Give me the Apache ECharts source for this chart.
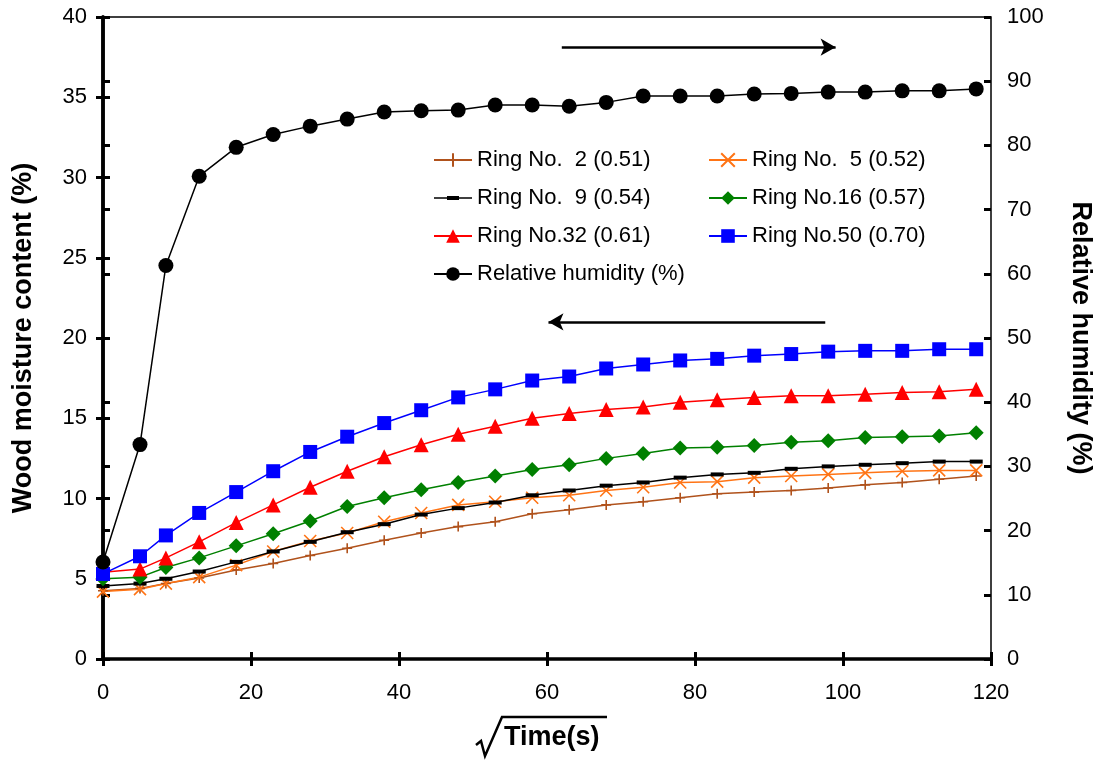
<!DOCTYPE html>
<html>
<head>
<meta charset="utf-8">
<script src="https://cdn.jsdelivr.net/npm/echarts@6/dist/echarts.min.js"></script>
<style>
  html, body { margin: 0; padding: 0; background: #fff; }
  #chart { width: 1102px; height: 761px; }
</style>
</head>
<body>
<div id="chart"></div>
<script>
// sqrt(time) positions of the readings
const xs = [0, 5, 8.5, 13, 18, 23, 28, 33, 38, 43, 48, 53, 58, 63, 68, 73, 78, 83, 88, 93, 98, 103, 108, 113, 118]

const ring2 = [4.25, 4.4, 4.7, 5.05, 5.55, 5.95, 6.45, 6.9, 7.4, 7.85, 8.25, 8.55, 9.05, 9.3, 9.6, 9.8, 10.05, 10.3, 10.4, 10.5, 10.65, 10.85, 11.0, 11.2, 11.4]
const ring5 = [4.2, 4.35, 4.7, 5.1, 5.85, 6.7, 7.35, 7.85, 8.55, 9.1, 9.6, 9.8, 10.05, 10.2, 10.5, 10.7, 11.0, 11.05, 11.3, 11.4, 11.5, 11.6, 11.7, 11.75, 11.75]
const ring9 = [4.55, 4.7, 5.0, 5.45, 6.05, 6.7, 7.3, 7.9, 8.4, 9.0, 9.4, 9.75, 10.2, 10.5, 10.8, 11.0, 11.3, 11.5, 11.6, 11.85, 12.0, 12.1, 12.2, 12.3, 12.3]
const ring16 = [5.0, 5.1, 5.7, 6.3, 7.05, 7.8, 8.6, 9.5, 10.05, 10.55, 11.0, 11.4, 11.8, 12.1, 12.5, 12.8, 13.15, 13.2, 13.3, 13.5, 13.6, 13.8, 13.85, 13.9, 14.1]
const ring32 = [5.4, 5.6, 6.3, 7.3, 8.5, 9.6, 10.7, 11.7, 12.6, 13.35, 14.0, 14.5, 15.0, 15.3, 15.55, 15.7, 16.0, 16.15, 16.3, 16.4, 16.4, 16.5, 16.6, 16.65, 16.8]
const ring50 = [5.3, 6.4, 7.7, 9.1, 10.4, 11.7, 12.9, 13.85, 14.7, 15.5, 16.3, 16.8, 17.35, 17.6, 18.1, 18.35, 18.6, 18.7, 18.9, 19.0, 19.15, 19.2, 19.2, 19.3, 19.3]
const humidity = [15.1, 33.4, 61.3, 75.2, 79.7, 81.7, 83.0, 84.1, 85.2, 85.4, 85.5, 86.3, 86.3, 86.1, 86.7, 87.7, 87.7, 87.7, 88.0, 88.1, 88.3, 88.3, 88.5, 88.5, 88.8]

// arrows pointing to the axis each group belongs to
const leftArrow = [[97.6, 21.0], [60.2, 21.0]]
const rightArrow = [[62, 95.3], [99, 95.3]]

const FONT = '"Liberation Sans", Arial, sans-serif'
const pairs = (arr) => xs.map((x, i) => [x, arr[i]])

const plusPath = 'path://M0,5L10,5M5,0L5,10'
const crossPath = 'path://M0,0L10,10M0,10L10,0'
// legend icon for ring 9: thin line with a thick dash, in a 38x17 box
const dashLegendIcon = 'path://M0,0L0.05,0L0,0.05Z M0,7.75L38,7.75L38,9.25L0,9.25Z M13,6.5L25,6.5L25,10.5L13,10.5Z M37.95,17L38,17L38,16.95Z'

function ringSeries(name, data, color, symbol, size, stroke) {
  return {
    name,
    type: 'line',
    data: pairs(data),
    symbol,
    symbolSize: size,
    lineStyle: { color, width: 1.5 },
    itemStyle: stroke
      ? { color: 'rgba(0,0,0,0)', borderColor: color, borderWidth: 1.6 }
      : { color, borderWidth: 0 },
  }
}

const chart = echarts.init(document.getElementById('chart'))

const tickOut = { show: true, length: 7, lineStyle: { color: '#000', width: 3 } }
const tickIn = { show: true, inside: true, length: 7, lineStyle: { color: '#000', width: 3 } }
const axisLabel = { color: '#000', fontSize: 22, fontFamily: FONT }
const titleStyle = { color: '#000', fontSize: 27, fontWeight: 'bold', fontFamily: FONT }

const series = [
  ringSeries('Ring No.  2 (0.51)', ring2, '#b0521c', plusPath, 10, true),
  ringSeries('Ring No.  5 (0.52)', ring5, '#ff7415', crossPath, 12, true),
  ringSeries('Ring No.  9 (0.54)', ring9, '#000000', 'rect', [13, 4], false),
  ringSeries('Ring No.16 (0.57)', ring16, '#008000', 'diamond', 15, false),
  ringSeries('Ring No.32 (0.61)', ring32, '#ff0000', 'triangle', 15, false),
  ringSeries('Ring No.50 (0.70)', ring50, '#0000ff', 'rect', 14, false),
  {
    name: 'Relative humidity (%)',
    type: 'line',
    yAxisIndex: 1,
    data: pairs(humidity),
    symbol: 'circle',
    symbolSize: 15,
    lineStyle: { color: '#000', width: 1.5 },
    itemStyle: { color: '#000' },
  },
]

const arrowLine = (pts) => ({
  silent: true,
  symbol: ['none', 'arrow'],
  symbolSize: [13, 15],
  label: { show: false },
  lineStyle: { color: '#000', width: 2.5, type: 'solid' },
  data: [[{ coord: pts[0] }, { coord: pts[1] }]],
})
series[5].markLine = arrowLine(leftArrow)
series[6].markLine = arrowLine(rightArrow)

const legendBase = {
  orient: 'vertical',
  top: 144,
  itemWidth: 38,
  itemHeight: 17,
  itemGap: 16,
  textStyle: { color: '#000', fontSize: 22, fontFamily: FONT },
}

chart.setOption({
  animation: false,
  backgroundColor: '#fff',
  grid: { left: 103, right: 103, top: 17, bottom: 102, show: true, borderColor: '#000', borderWidth: 1.5 },
  legend: [
    {
      ...legendBase,
      left: 428,
      data: [
        'Ring No.  2 (0.51)',
        { name: 'Ring No.  9 (0.54)', icon: dashLegendIcon },
        'Ring No.32 (0.61)',
        'Relative humidity (%)',
      ],
    },
    {
      ...legendBase,
      left: 703,
      data: ['Ring No.  5 (0.52)', 'Ring No.16 (0.57)', 'Ring No.50 (0.70)'],
    },
  ],
  xAxis: [
    {
      type: 'value',
      min: 0,
      max: 120,
      interval: 20,
      axisLine: { lineStyle: { color: '#000', width: 3.5 } },
      axisTick: tickOut,
      axisLabel: { ...axisLabel, margin: 23 },
      splitLine: { show: false },
    },
    {
      type: 'value',
      position: 'bottom',
      min: 0,
      max: 120,
      interval: 20,
      axisLine: { show: false },
      axisTick: tickIn,
      axisLabel: { show: false },
      splitLine: { show: false },
    },
  ],
  yAxis: [
    {
      type: 'value',
      min: 0,
      max: 40,
      interval: 5,
      position: 'left',
      name: 'Wood moisture content (%)',
      nameLocation: 'middle',
      nameGap: 66,
      nameTextStyle: titleStyle,
      axisLine: { show: true, lineStyle: { color: '#000', width: 3.5 } },
      axisTick: tickOut,
      axisLabel: { ...axisLabel, margin: 16 },
      splitLine: { show: false },
    },
    {
      type: 'value',
      min: 0,
      max: 100,
      interval: 10,
      position: 'right',
      name: 'Relative humidity (%)',
      nameLocation: 'middle',
      nameGap: 76,
      nameRotate: -90,
      nameTextStyle: titleStyle,
      axisLine: { show: true, lineStyle: { color: '#000', width: 3.5 } },
      axisTick: tickOut,
      axisLabel: { ...axisLabel, margin: 16 },
      splitLine: { show: false },
    },
    {
      type: 'value',
      min: 0,
      max: 40,
      interval: 5,
      position: 'left',
      axisLine: { show: false },
      axisTick: tickIn,
      axisLabel: { show: false },
      splitLine: { show: false },
    },
    {
      type: 'value',
      min: 0,
      max: 100,
      interval: 10,
      position: 'right',
      axisLine: { show: false },
      axisTick: tickIn,
      axisLabel: { show: false },
      splitLine: { show: false },
    },
  ],
  graphic: [
    {
      type: 'polyline',
      shape: { points: [[476, 745], [481, 741], [485, 756], [502, 717], [607, 717]] },
      style: { stroke: '#000', lineWidth: 2.5, fill: null },
    },
    {
      type: 'text',
      left: 504,
      top: 724,
      style: { text: 'Time(s)', fill: '#000', fontSize: 27, fontWeight: 'bold', fontFamily: FONT },
    },
  ],
  series,
})
</script>
</body>
</html>
